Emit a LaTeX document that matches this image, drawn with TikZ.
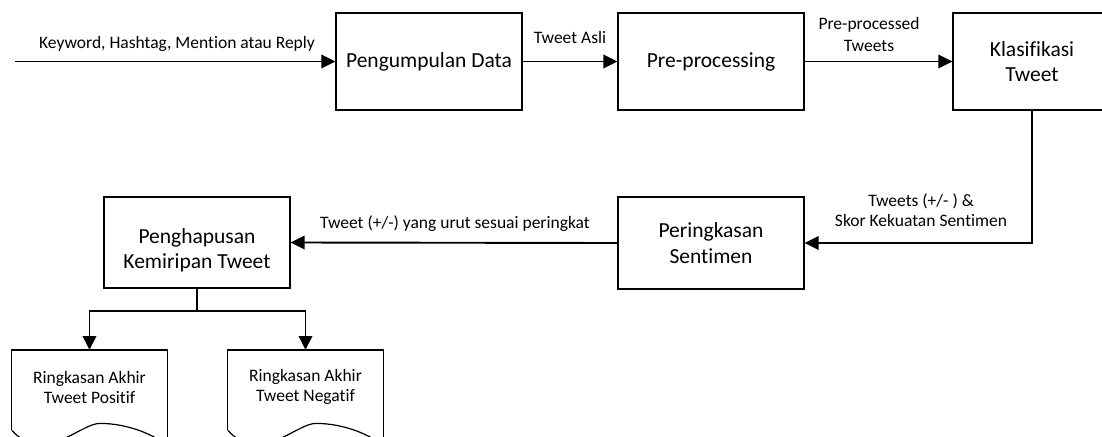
\documentclass[tikz,border=0pt]{standalone}
\usepackage{fontspec}
\setmainfont{Carlito}[Ligatures=NoCommon]
\usetikzlibrary{arrows.meta,calc}
\newcommand\lblf{\fontsize{17.5}{20}\selectfont}
\newcommand\boxf{\fontsize{21.5}{25.5}\selectfont}
\begin{document}
\begin{tikzpicture}[x=1pt,y=-1pt,
  box/.style={draw,line width=1.2pt,minimum width=186pt,minimum height=97pt,font=\boxf,align=center,inner sep=0pt},
  conn/.style={line width=1.9pt},
  arr/.style={conn,-{Triangle[length=14pt,width=13.5pt]}},
  lbl/.style={font=\lblf,align=center,inner sep=0pt},
  doc/.style={minimum width=155pt,minimum height=74pt,inner sep=0pt,font=\lblf,align=center,anchor=north},
  docline/.style={line width=1.2pt}]
\useasboundingbox (0,0) rectangle (1102,436);
\clip (0,0) rectangle (1102,436);
% boxes
\node[box] (pd) at (429,61.5) {Pengumpulan Data};
\node[box] (pp) at (711,61.5) {Pre-processing};
\node[box,minimum width=158pt] (kt) at (1032,61.5) {Klasifikasi\\Tweet};
\node[box,minimum height=92pt] (ps) at (711,243) {Peringkasan\\Sentimen};
\node[box,minimum height=91pt,label={[font=\boxf,align=center,yshift=-8pt]center:Penghapusan\\Kemiripan Tweet}] (pk) at (197,242.5) {};
\node[doc] (d1) at (89.5,350) {Ringkasan Akhir\\Tweet Positif};
\node[doc] (d2) at (305.5,350) {Ringkasan Akhir\\Tweet Negatif};
% document outlines
\foreach \d in {d1,d2}{
  \draw[docline] ($(\d.south west)+(0,6)$) -- (\d.north west) -- (\d.north east) -- ($(\d.south east)+(0,21)$);
  \draw[docline] ($(\d.south west)+(0,6)$) .. controls +(33,35) and +(-20,0) .. ($(\d.south west)+(88,-1)$)
     .. controls +(25,0) and +(-17,-13) .. ($(\d.south east)+(0,21)$);
}
% labels
\node[lbl] (l1) at (177,43.6) {Keyword, Hashtag, Mention atau Reply};
\node[lbl] (l2) at (570,37.6) {Tweet Asli};
\node[lbl,font=\fontsize{17.5}{22}\selectfont] (l3) at (869,34.6) {Pre-processed\\Tweets};
\node[lbl] (l4) at (921,210.6) {Tweets (+/- ) \&\\Skor Kekuatan Sentimen};
\node[lbl] (l5) at (455,223.6) {Tweet (+/-) yang urut sesuai peringkat};
% connectors
\coordinate (in) at (15,61.5);
\coordinate (j) at (197,311);
\draw[arr] (in) -- (pd.west);
\draw[arr] (pd.east) -- (pp.west);
\draw[arr] (pp.east) -- (kt.west);
\draw[arr] (kt.south) |- (ps.east);
\draw[arr] (ps.west) -- (pk.east);
\draw[conn] (pk.south) -- (j);
\draw[arr] (j) -| (d1.north);
\draw[arr] (j) -| (d2.north);
\end{tikzpicture}
\end{document}
